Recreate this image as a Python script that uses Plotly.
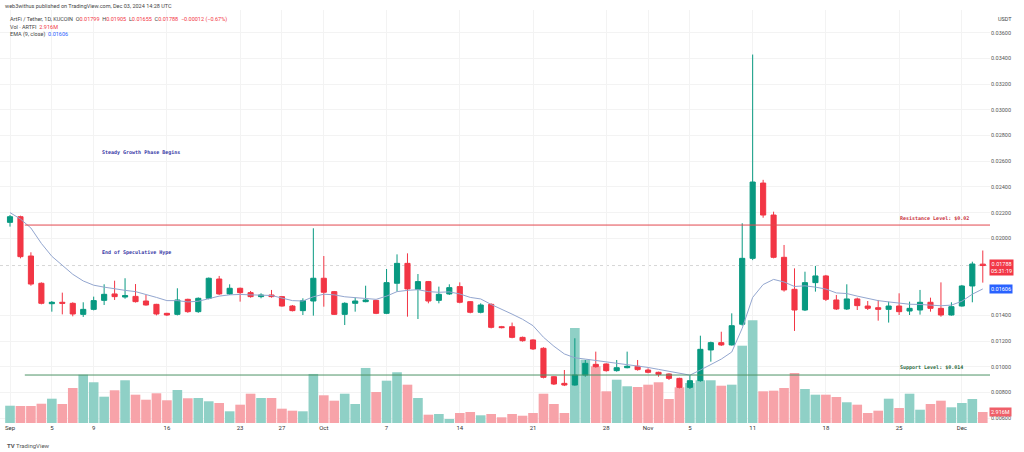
import pandas as pd
import plotly.graph_objects as go

dates = pd.date_range("2024-09-01", periods=94, freq="D")

opens = [0.02124,0.02168,0.01862,0.01650,0.01491,0.01502,0.01494,0.01408,0.01447,0.01517,
         0.01567,0.01543,0.01548,0.01512,0.01486,0.01416,0.01408,0.01525,0.01429,0.01533,
         0.01683,0.01567,0.01611,0.01577,0.01546,0.01559,0.01546,0.01473,0.01437,0.01512,
         0.01689,0.01585,0.01408,0.01494,0.01507,0.01517,0.01416,0.01650,0.01805,0.01603,
         0.01663,0.01517,0.01567,0.01624,0.01507,0.01424,0.01486,0.01312,0.01312,0.01229,
         0.01209,0.01144,0.00923,0.00871,0.00858,0.00936,0.01019,0.01022,0.00970,0.00993,
         0.01004,0.00975,0.00957,0.00944,0.00910,0.00840,0.00892,0.01131,0.01188,0.01170,
         0.01331,0.01844,0.02430,0.02181,0.01852,0.01603,0.01442,0.01655,0.01707,0.01520,
         0.01450,0.01528,0.01473,0.01460,0.01447,0.01473,0.01434,0.01442,0.01502,0.01455,
         0.01403,0.01473,0.01629,0.01799]
highs = [0.02181,0.02176,0.01891,0.01657,0.01512,0.01577,0.01502,0.01502,0.01546,0.01642,
         0.01670,0.01689,0.01644,0.01559,0.01490,0.01420,0.01611,0.01530,0.01540,0.01695,
         0.01707,0.01642,0.01616,0.01590,0.01572,0.01598,0.01551,0.01481,0.01533,0.02078,
         0.01862,0.01590,0.01502,0.01538,0.01631,0.01520,0.01761,0.01875,0.01883,0.01722,
         0.01668,0.01624,0.01642,0.01657,0.01512,0.01494,0.01494,0.01318,0.01344,0.01235,
         0.01214,0.01152,0.00928,0.00975,0.01222,0.01053,0.01118,0.01027,0.01053,0.01118,
         0.01053,0.00988,0.00962,0.00949,0.00915,0.00936,0.01242,0.01196,0.01273,0.01416,
         0.02117,0.03430,0.02455,0.02207,0.01948,0.01766,0.01740,0.01785,0.01715,0.01559,
         0.01642,0.01538,0.01512,0.01520,0.01507,0.01572,0.01507,0.01598,0.01538,0.01657,
         0.01502,0.01637,0.01818,0.01905]
lows = [0.02091,0.01844,0.01631,0.01486,0.01429,0.01408,0.01393,0.01388,0.01439,0.01481,
        0.01520,0.01530,0.01500,0.01476,0.01400,0.01395,0.01400,0.01420,0.01420,0.01525,
        0.01559,0.01559,0.01507,0.01538,0.01533,0.01538,0.01468,0.01431,0.01403,0.01398,
        0.01468,0.01403,0.01325,0.01429,0.01502,0.01410,0.01410,0.01585,0.01390,0.01372,
        0.01494,0.01494,0.01559,0.01494,0.01416,0.01416,0.01299,0.01299,0.01222,0.01196,
        0.01131,0.00910,0.00858,0.00850,0.00853,0.00923,0.00993,0.00962,0.00962,0.00988,
        0.00970,0.00949,0.00923,0.00897,0.00832,0.00827,0.00884,0.01040,0.01162,0.01165,
        0.01320,0.01830,0.02160,0.01844,0.01585,0.01279,0.01434,0.01585,0.01512,0.01442,
        0.01442,0.01442,0.01442,0.01359,0.01344,0.01403,0.01403,0.01406,0.01429,0.01390,
        0.01398,0.01468,0.01502,0.01655]
closes = [0.02168,0.01857,0.01644,0.01494,0.01502,0.01494,0.01411,0.01447,0.01515,0.01564,
          0.01546,0.01554,0.01507,0.01481,0.01411,0.01403,0.01520,0.01429,0.01533,0.01689,
          0.01567,0.01611,0.01577,0.01546,0.01559,0.01546,0.01473,0.01437,0.01515,0.01689,
          0.01580,0.01408,0.01494,0.01512,0.01520,0.01416,0.01655,0.01805,0.01606,0.01663,
          0.01512,0.01564,0.01616,0.01502,0.01424,0.01481,0.01307,0.01305,0.01229,0.01203,
          0.01139,0.00918,0.00866,0.00858,0.00936,0.01027,0.01001,0.00970,0.00993,0.01004,
          0.00978,0.00957,0.00941,0.00910,0.00840,0.00892,0.01136,0.01188,0.01170,0.01320,
          0.01844,0.02438,0.02181,0.01852,0.01598,0.01442,0.01655,0.01707,0.01525,0.01450,
          0.01528,0.01476,0.01455,0.01447,0.01473,0.01429,0.01455,0.01502,0.01455,0.01403,
          0.01468,0.01629,0.01800,0.01788]
ema9 = [0.02200,0.02150,0.02080,0.01960,0.01860,0.01790,0.01720,0.01668,0.01635,0.01620,
        0.01605,0.01595,0.01585,0.01565,0.01540,0.01515,0.01515,0.01505,0.01510,0.01530,
        0.01550,0.01560,0.01563,0.01560,0.01558,0.01555,0.01535,0.01515,0.01512,0.01545,
        0.01565,0.01560,0.01545,0.01540,0.01535,0.01525,0.01550,0.01585,0.01595,0.01600,
        0.01585,0.01580,0.01583,0.01567,0.01540,0.01528,0.01485,0.01450,0.01410,0.01370,
        0.01320,0.01230,0.01160,0.01100,0.01070,0.01060,0.01050,0.01035,0.01025,0.01015,
        0.01005,0.00995,0.00980,0.00965,0.00945,0.00935,0.00975,0.01020,0.01060,0.01115,
        0.01300,0.01540,0.01640,0.01680,0.01660,0.01625,0.01630,0.01620,0.01605,0.01575,
        0.01570,0.01550,0.01530,0.01515,0.01505,0.01495,0.01487,0.01485,0.01480,0.01475,
        0.01480,0.01510,0.01565,0.01606]
volume_m = [4.58,4.50,4.50,5.11,6.44,5.04,9.28,12.80,10.79,6.97,
            8.67,11.32,7.50,6.17,7.87,6.02,8.75,6.55,6.63,5.75,
            5.30,3.10,4.85,7.76,6.63,6.63,3.79,3.26,3.10,12.99,
            7.34,5.91,7.76,5.04,14.58,8.22,11.21,13.44,10.15,6.63,
            2.20,2.39,1.06,2.65,2.92,2.04,2.39,1.51,2.39,1.93,
            2.65,7.76,5.04,2.65,25.18,16.77,15.03,8.40,11.47,9.73,
            9.54,10.15,10.79,6.36,9.46,10.60,11.32,11.32,9.88,10.15,
            20.48,27.22,8.40,8.56,9.28,13.25,9.01,7.50,7.50,6.89,
            5.49,4.85,2.65,3.26,6.44,3.98,7.76,3.52,5.04,5.91,
            4.16,5.30,6.36,2.916]

tick_dates = ["2024-09-01","2024-09-05","2024-09-09","2024-09-16","2024-09-23","2024-09-27",
              "2024-10-01","2024-10-07","2024-10-14","2024-10-21","2024-10-28","2024-11-01",
              "2024-11-05","2024-11-11","2024-11-18","2024-11-25","2024-12-01"]
tick_labels = ["Sep","5","9","16","23","27","Oct","7","14","21","28","Nov","5","11","18","25","Dec"]
price_ticks = [0.006,0.008,0.010,0.012,0.014,0.020,0.022,0.024,0.026,0.028,0.030,0.032,0.034,0.036]
price_tick_labels = ["%.5f" % v for v in price_ticks]

resistance_level = 0.02103
support_level = 0.00936
levels_start = "2024-09-02 10:00"

GREEN = "#089981"
RED = "#f23645"
vol_colors = ["#8fd0c6" if c >= o else "#f7a3a9" for o, c in zip(opens, closes)]

fig = go.Figure()
fig.add_trace(go.Bar(x=dates, y=volume_m, marker=dict(color=vol_colors, line=dict(width=0)),
                     yaxis="y", hoverinfo="skip"))
fig.add_trace(go.Candlestick(x=dates, open=opens, high=highs, low=lows, close=closes,
                             increasing=dict(line=dict(color=GREEN, width=1), fillcolor=GREEN),
                             decreasing=dict(line=dict(color=RED, width=1), fillcolor=RED),
                             yaxis="y2"))
fig.add_trace(go.Scatter(x=dates, y=ema9, mode="lines", line=dict(color="#93a6cf", width=1),
                         yaxis="y2", hoverinfo="skip"))

x_range = ["2024-08-31 01:03", "2024-12-03 16:33"]

fig.update_layout(
    width=1024, height=452,
    margin=dict(l=0, r=34, t=10, b=29),
    paper_bgcolor="white", plot_bgcolor="white",
    showlegend=False, bargap=0.08,
    font=dict(family="Roboto, Liberation Sans, sans-serif", size=6, color="#333"),
    xaxis=dict(range=x_range, rangeslider=dict(visible=False), tickvals=tick_dates,
               ticktext=tick_labels, showgrid=True, gridcolor="#f3f3f3", zeroline=False,
               showline=False, ticks="", tickfont=dict(size=6, color="#333")),
    yaxis=dict(range=[0, 109.4], visible=False, showgrid=False),
    yaxis2=dict(range=[0.005626, 0.037767], overlaying="y", side="right",
                tickvals=price_ticks, ticktext=price_tick_labels, showgrid=True,
                gridcolor="#f3f3f3", zeroline=False, ticks="", showline=False,
                tickfont=dict(size=5.5, color="#555")),
)

shapes = [
    dict(type="line", xref="x", yref="y2", x0=x_range[0], x1=x_range[1],
         y0=closes[-1], y1=closes[-1], line=dict(color="#d6d6d6", width=1, dash="dot"), layer="below"),
    dict(type="line", xref="x", yref="y2", x0=levels_start, x1=x_range[1],
         y0=resistance_level, y1=resistance_level, line=dict(color="#e2474f", width=1)),
    dict(type="line", xref="x", yref="y2", x0=levels_start, x1=x_range[1],
         y0=support_level, y1=support_level, line=dict(color="#4e9467", width=1)),
]
fig.update_layout(shapes=shapes)

def px_x(px):
    return px / 990.0

def px_y(py):
    return (423.0 - py) / 413.0

mono = "DejaVu Sans Mono, Liberation Mono, monospace"
ann = []
hdr = dict(xref="paper", yref="paper", xanchor="left", yanchor="middle", showarrow=False,
           font=dict(size=5.5, color="#444", family="Roboto, sans-serif"))
ann.append(dict(hdr, x=px_x(3), y=px_y(6),
                text="web3withus published on TradingView.com, Dec 03, 2024 14:28 UTC"))
ann.append(dict(hdr, x=px_x(8), y=px_y(19),
                text=("ArtFi / Tether, 1D, KUCOIN  O<span style='color:#f23645'>0.01799</span>"
                      "  H<span style='color:#f23645'>0.01905</span>  L<span style='color:#f23645'>0.01655</span>"
                      "  C<span style='color:#f23645'>0.01788</span>  <span style='color:#f23645'>−0.00012 (−0.67%)</span>")))
ann.append(dict(hdr, x=px_x(8), y=px_y(27),
                text="Vol · ARTFI  <span style='color:#f23645'>2.916M</span>"))
ann.append(dict(hdr, x=px_x(8), y=px_y(34.5),
                text="EMA (9, close)  <span style='color:#2962ff'>0.01606</span>"))
ann.append(dict(hdr, x=1.015, y=px_y(19), xanchor="center", text="USDT"))
ann.append(dict(hdr, x=px_x(5), y=px_y(445), font=dict(size=6, color="#555", family="Roboto, sans-serif"),
                text="<b>TV</b> TradingView"))

lab = dict(xref="paper", yref="paper", xanchor="left", yanchor="middle", showarrow=False)
ann.append(dict(lab, x=px_x(100), y=px_y(153), text="<b>Steady Growth Phase Begins</b>",
                font=dict(family=mono, size=5, color="#3a3aa6")))
ann.append(dict(lab, x=px_x(100), y=px_y(253), text="<b>End of Speculative Hype</b>",
                font=dict(family=mono, size=5, color="#3a3aa6")))
ann.append(dict(lab, x=px_x(898), y=px_y(217.5), text="<b>Resistance Level: $0.02</b>",
                font=dict(family=mono, size=5, color="#c8343e")))
ann.append(dict(lab, x=px_x(898), y=px_y(367), text="<b>Support Level: $0.014</b>",
                font=dict(family=mono, size=5, color="#2e6b3f")))

box = dict(xref="paper", xanchor="left", yanchor="middle", showarrow=False, borderpad=1,
           font=dict(size=5.5, color="white", family="Roboto, sans-serif"))
ann.append(dict(box, x=1.0, xshift=-1, yref="y2", y=closes[-1], yshift=-2, bgcolor="#f23645",
                text="0.01788<br>05:31:19"))
ann.append(dict(box, x=1.0, xshift=-1, yref="y2", y=ema9[-1], bgcolor="#2962ff", text="0.01606"))
ann.append(dict(box, x=1.0, xshift=-1, yref="y", y=volume_m[-1], bgcolor="#ef5f69", text="2.916M"))
fig.update_layout(annotations=ann)

fig.write_html("out.html")
